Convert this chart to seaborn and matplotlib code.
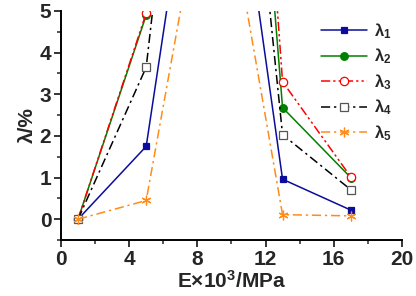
import numpy as np
import pandas as pd
import matplotlib
matplotlib.use("Agg")
import matplotlib.pyplot as plt
import seaborn as sns
from matplotlib.ticker import MultipleLocator

# ---- data ----
E_values = [1, 5, 9, 13, 17]
lambda1 = [0.0, 1.75, 12.6, 0.96, 0.22]
lambda2 = [0.0, 4.90, 23.0, 2.68, 1.00]
lambda3 = [0.0, 4.95, 26.0, 3.30, 1.02]
lambda4 = [0.0, 3.65, 18.0, 2.03, 0.71]
lambda5 = [0.0, 0.45, 9.5, 0.11, 0.08]
series_labels = ["λ$_1$", "λ$_2$", "λ$_3$", "λ$_4$", "λ$_5$"]
x_ticks = [0, 4, 8, 12, 16, 20]
y_ticks = [0, 1, 2, 3, 4, 5]

sns.set_style("ticks")
plt.rcParams["font.family"] = ["Liberation Sans", "DejaVu Sans"]
plt.rcParams["font.weight"] = "bold"
plt.rcParams["mathtext.fontset"] = "custom"
plt.rcParams["mathtext.rm"] = "Liberation Sans:bold"
plt.rcParams["mathtext.it"] = "Liberation Sans:bold"
plt.rcParams["mathtext.bf"] = "Liberation Sans:bold"

fig = plt.figure(figsize=(4.16, 2.96), dpi=100)
ax = fig.add_axes([0.1466, 0.189, 0.8194, 0.774])

styles = [
    dict(color="#0b0b9c", linestyle="-", marker="s", mfc="#0b0b9c", mec="#0b0b9c", ms=5),
    dict(color="#008000", linestyle="-", marker="o", mfc="#008000", mec="#008000", ms=5.5),
    dict(color="#ff0000", linestyle=(0, (6, 2, 1.5, 2, 1.5, 2)), marker="o", mfc="white", mec="#ff0000", ms=6),
    dict(color="#000000", linestyle=(0, (6, 2.5, 1.5, 2.5)), marker="s", mfc="white", mec="#555555", ms=5.5),
    dict(color="#ff8c1a", linestyle=(0, (6, 2.5, 1.5, 2.5)), marker=(6, 2, 0), mfc="#ff8c1a", mec="#ff8c1a", ms=7),
]

all_series = [lambda1, lambda2, lambda3, lambda4, lambda5]
for vals, lab, st in zip(all_series, series_labels, styles):
    df = pd.DataFrame({"E": E_values, "lam": vals})
    sns.lineplot(data=df, x="E", y="lam", ax=ax, label=lab, errorbar=None,
                 color=st["color"], linestyle=st["linestyle"], marker=st["marker"],
                 markerfacecolor=st["mfc"], markeredgecolor=st["mec"],
                 markersize=st["ms"], linewidth=1.1, markeredgewidth=0.9)

ax.set_xlim(0, 20)
ax.set_ylim(-0.5, 5)
ax.set_xticks(x_ticks)
ax.set_yticks(y_ticks)
ax.xaxis.set_minor_locator(MultipleLocator(2))
ax.yaxis.set_minor_locator(MultipleLocator(0.5))
ax.tick_params(axis="both", which="major", direction="out", length=5, width=1.3,
               labelsize=15, pad=2)
ax.tick_params(axis="both", which="minor", direction="out", length=3, width=1.1)
for lbl in ax.get_xticklabels() + ax.get_yticklabels():
    lbl.set_fontweight("bold")

sns.despine(ax=ax)
for sp in ["left", "bottom"]:
    ax.spines[sp].set_linewidth(1.4)
    ax.spines[sp].set_color("black")

ax.set_xlabel("E×10$^3$/MPa", fontsize=15, fontweight="bold", labelpad=1)
ax.set_ylabel("λ/%", fontsize=15, fontweight="bold", labelpad=2)

leg = ax.legend(loc="upper right", bbox_to_anchor=(1.0, 1.0), frameon=False,
                fontsize=12, handlelength=2.8, labelspacing=0.35,
                handletextpad=0.4, borderaxespad=0.2)
for t in leg.get_texts():
    t.set_fontweight("bold")

fig.savefig("out.png", dpi=100)
